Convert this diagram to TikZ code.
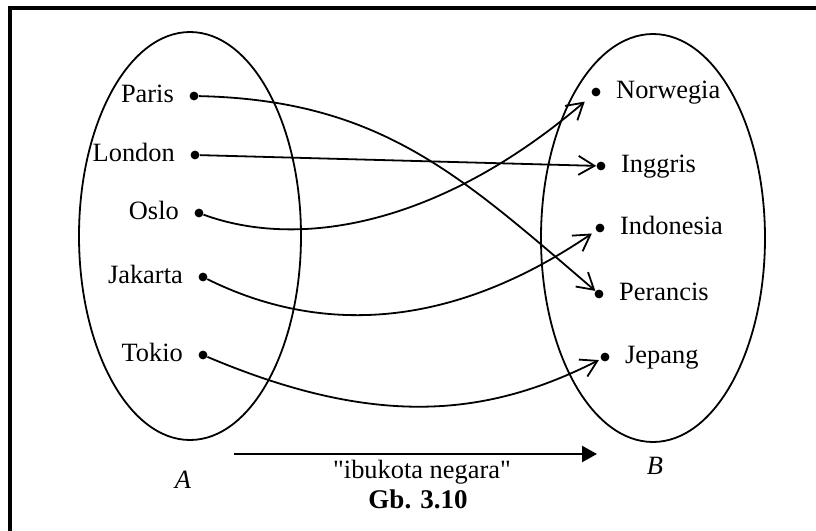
\documentclass[tikz,border=0pt]{standalone}
\usepackage{fontspec}
\setmainfont{Liberation Serif}
\usepackage{tikz}
\usetikzlibrary{arrows.meta,positioning,shapes.geometric}

\tikzset{
  himpunan/.style={draw,ellipse,line width=0.9pt,inner sep=0pt},
  titik/.style={circle,fill,inner sep=0pt,minimum size=4.4pt},
  kota/.style={inner sep=0pt,text height=0.66em,text depth=0pt},
  panah/.style={line width=0.9pt,-{Straight Barb[length=8pt,width=9.5pt]}},
  panahtebal/.style={line width=1.2pt,-{Triangle[length=7.5pt,width=8pt]}}
}

\begin{document}
\begin{tikzpicture}[x=0.5pt,y=-0.5pt,font=\fontsize{13.2}{15}\selectfont]
  \useasboundingbox (0,0) rectangle (816,531);
  % bingkai
  \draw[line width=2pt] (10,531) -- (10,8) -- (816,8);
  % himpunan A dan B
  \node[himpunan,minimum width=111pt,minimum height=204pt] (setA) at (190,236) {};
  \node[himpunan,minimum width=112pt,minimum height=204pt] (setB) at (653,238) {};
  % kota di A
  \foreach \n/\t/\x/\y in {paris/Paris/194/96, london/London/195/155,
      oslo/Oslo/199/213, jakarta/Jakarta/203/277, tokio/Tokio/203/355} {
    \node[titik] (\n) at (\x,\y) {};
    \node[kota,left=7.5pt of \n] (l\n) {\t};
  }
  % negara di B
  \foreach \n/\t/\x/\y in {norwegia/Norwegia/596/92, inggris/Inggris/601/166,
      indonesia/Indonesia/600/228, perancis/Perancis/599/294, jepang/Jepang/605/357} {
    \node[titik] (\n) at (\x,\y) {};
    \node[kota,right=7.5pt of \n] (l\n) {\t};
  }
  % pemetaan
  \draw[panah] (paris) .. controls (380,100) and (460,175) .. (perancis);
  \draw[panah] (london) -- (inggris);
  \draw[panah,shorten >=5pt] (oslo) .. controls (300,250) and (440,225) .. (norwegia);
  \draw[panah,shorten >=2.5pt] (jakarta) .. controls (320,335) and (450,330) .. (indonesia);
  \draw[panah,shorten >=1pt] (tokio) .. controls (380,430) and (490,415) .. (jepang);
  % keterangan bawah
  \coordinate (awal) at (234,454);
  \coordinate (akhir) at (597,454);
  \draw[panahtebal] (awal) -- (akhir);
  \node[font=\fontsize{13.2}{15}\selectfont\itshape] (nA) at (183,480) {A};
  \node[font=\fontsize{13.2}{15}\selectfont\itshape] (nB) at (655,466) {B};
  \node (fungsi) at (422,472) {\textquotedbl ibukota negara\textquotedbl};
  \node[font=\fontsize{13.5}{15}\selectfont\bfseries] (gambar) at (418,499) {Gb. 3.10};
\end{tikzpicture}
\end{document}
